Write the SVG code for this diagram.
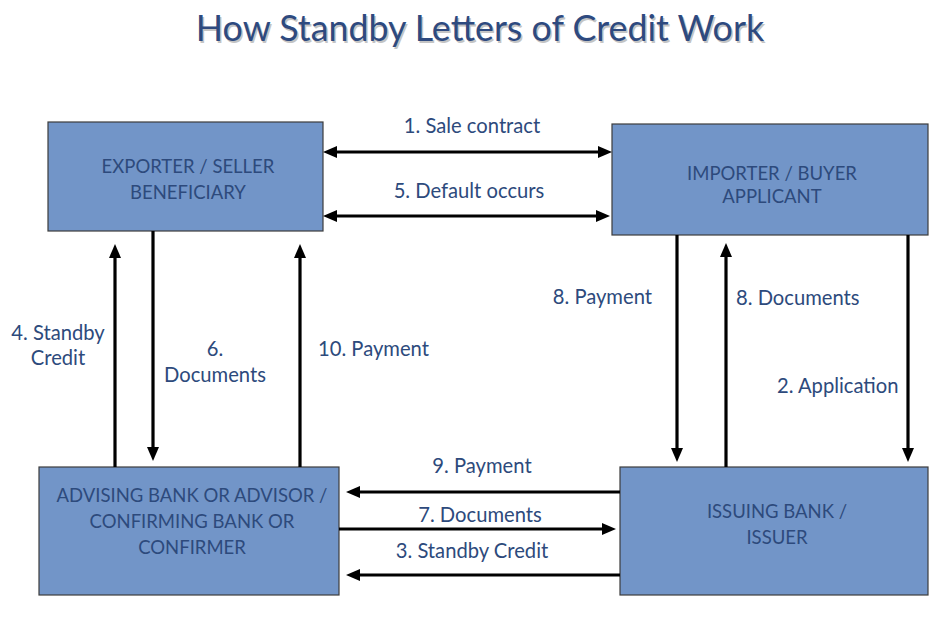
<svg xmlns="http://www.w3.org/2000/svg" width="939" height="618" viewBox="0 0 939 618">
<style>
  .box { fill: #7295C8; stroke: #3c3c3c; stroke-width: 1.2; }
  .t { font-family: Lato, "Liberation Sans", sans-serif; font-size: 18.5px; fill: #2D4A7C; }
  .l { font-family: Lato, "Liberation Sans", sans-serif; font-size: 20.2px; fill: #2D4A7C; }
  .c { text-anchor: middle; }
  .e { text-anchor: end; }
  .title { font-family: Lato, "Liberation Sans", sans-serif; font-size: 35.8px; fill: #2E4A7F; text-anchor: middle; }
  .sh { fill: #c4c4c4; }
  .ln { stroke: #000; stroke-width: 3.2; fill: none; }
</style>
<defs>
  <marker id="ah" markerUnits="userSpaceOnUse" markerWidth="14" markerHeight="14" viewBox="0 0 14 14" refX="2" refY="7" orient="auto-start-reverse">
    <path d="M0,1 L14,7 L0,13 Z" fill="#000"/>
  </marker>
</defs>
<rect width="939" height="618" fill="#fff"/>
<g id="title">
  <text class="title sh" x="481.5" y="42.5">How Standby Letters of Credit Work</text>
  <text class="title" x="480" y="41">How Standby Letters of Credit Work</text>
</g>
<g id="exporter">
  <rect class="box" x="48" y="122" width="275" height="109"/>
  <text class="t c" x="188" y="173">EXPORTER / SELLER</text>
  <text class="t c" x="188" y="199">BENEFICIARY</text>
</g>
<g id="importer">
  <rect class="box" x="612" y="124" width="316" height="111"/>
  <text class="t c" x="772" y="180">IMPORTER / BUYER</text>
  <text class="t c" x="772" y="203">APPLICANT</text>
</g>
<g id="advising">
  <rect class="box" x="39" y="467" width="300" height="128"/>
  <text class="t c" x="192" y="502">ADVISING BANK OR ADVISOR /</text>
  <text class="t c" x="192" y="528">CONFIRMING BANK OR</text>
  <text class="t c" x="192" y="554">CONFIRMER</text>
</g>
<g id="issuing">
  <rect class="box" x="620" y="467" width="308" height="128"/>
  <text class="t c" x="777" y="518">ISSUING BANK /</text>
  <text class="t c" x="777" y="544">ISSUER</text>
</g>
<g id="connectors">
  <line class="ln" x1="335" y1="152" x2="600" y2="152" marker-start="url(#ah)" marker-end="url(#ah)"/>
  <line class="ln" x1="335" y1="216" x2="598" y2="216" marker-start="url(#ah)" marker-end="url(#ah)"/>
  <line class="ln" x1="620" y1="492" x2="358" y2="492" marker-end="url(#ah)"/>
  <line class="ln" x1="339" y1="529" x2="604" y2="529" marker-end="url(#ah)"/>
  <line class="ln" x1="620" y1="575" x2="358" y2="575" marker-end="url(#ah)"/>
  <line class="ln" x1="677" y1="235" x2="677" y2="450" marker-end="url(#ah)"/>
  <line class="ln" x1="726" y1="467" x2="726" y2="255" marker-end="url(#ah)"/>
  <line class="ln" x1="908" y1="235" x2="908" y2="450" marker-end="url(#ah)"/>
  <line class="ln" x1="115" y1="467" x2="115" y2="256" marker-end="url(#ah)"/>
  <line class="ln" x1="153" y1="231" x2="153" y2="449" marker-end="url(#ah)"/>
  <line class="ln" x1="300" y1="467" x2="300" y2="256" marker-end="url(#ah)"/>
</g>
<g id="labels">
  <text class="l c" x="472" y="133">1. Sale contract</text>
  <text class="l c" x="469" y="198">5. Default occurs</text>
  <text class="l c" x="482" y="473">9. Payment</text>
  <text class="l c" x="480" y="522">7. Documents</text>
  <text class="l c" x="472" y="558">3. Standby Credit</text>
  <text class="l e" x="652" y="304">8. Payment</text>
  <text class="l" x="736" y="305">8. Documents</text>
  <text class="l" x="777" y="393">2. Application</text>
  <text class="l c" x="58" y="340">4. Standby</text>
  <text class="l c" x="58" y="365">Credit</text>
  <text class="l c" x="215" y="356">6.</text>
  <text class="l c" x="215" y="382">Documents</text>
  <text class="l" x="318" y="356">10. Payment</text>
</g>
</svg>
